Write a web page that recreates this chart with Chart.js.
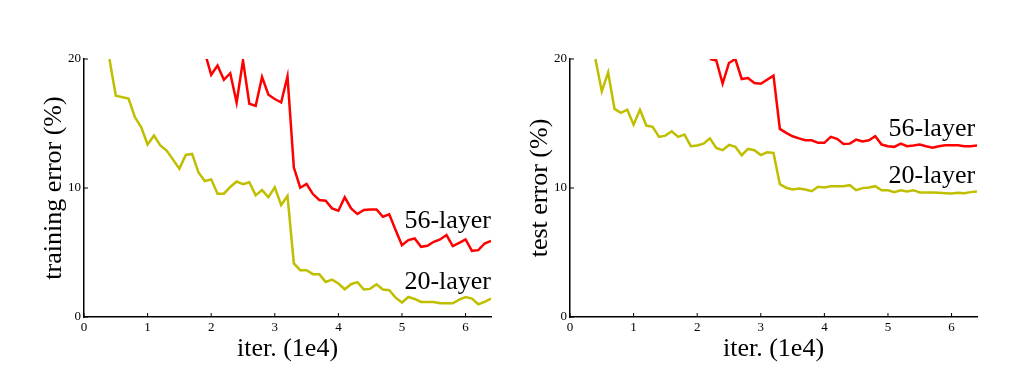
<!DOCTYPE html>
<html>
<head>
<meta charset="utf-8">
<script src="https://cdn.jsdelivr.net/npm/chart.js@4/dist/chart.umd.min.js"></script>
<style>
  body { margin: 0; background: #fff; }
  .panel { position: absolute; top: 0; width: 510px; height: 368px; }
</style>
</head>
<body>
<div class="panel" style="left:0"><canvas id="train" width="510" height="368"></canvas></div>
<div class="panel" style="left:510px"><canvas id="test" width="510" height="368"></canvas></div>
<script>
// x values are iterations in units of 1e4
const xTicks = [0, 1, 2, 3, 4, 5, 6];
const yTicks = [0, 10, 20];

// training error, 20-layer
const train20Iter = [0.4, 0.5, 0.7, 0.8, 0.9, 1.0, 1.1, 1.2, 1.3, 1.4, 1.5, 1.6, 1.7, 1.8, 1.9, 2.0, 2.1, 2.2, 2.3, 2.4, 2.5, 2.6, 2.7, 2.8, 2.9, 3.0, 3.1, 3.2, 3.3, 3.4, 3.5, 3.6, 3.7, 3.8, 3.9, 4.0, 4.1, 4.2, 4.3, 4.4, 4.5, 4.6, 4.7, 4.8, 4.9, 5.0, 5.1, 5.2, 5.3, 5.5, 5.6, 5.8, 5.9, 6.0, 6.1, 6.2, 6.3, 6.4];
const train20Err = [20, 17.15, 16.94, 15.5, 14.7, 13.37, 14.07, 13.3, 12.9, 12.2, 11.5, 12.56, 12.64, 11.2, 10.54, 10.67, 9.56, 9.56, 10.08, 10.5, 10.29, 10.44, 9.43, 9.84, 9.28, 10.05, 8.68, 9.38, 4.15, 3.63, 3.63, 3.32, 3.32, 2.72, 2.9, 2.6, 2.15, 2.54, 2.7, 2.13, 2.18, 2.54, 2.13, 2.07, 1.5, 1.12, 1.55, 1.4, 1.17, 1.17, 1.06, 1.06, 1.35, 1.55, 1.43, 0.99, 1.17, 1.43];

// training error, 56-layer
const train56Iter = [1.9, 2.0, 2.1, 2.2, 2.3, 2.4, 2.5, 2.6, 2.7, 2.8, 2.9, 3.0, 3.1, 3.2, 3.3, 3.4, 3.5, 3.6, 3.7, 3.8, 3.9, 4.0, 4.1, 4.2, 4.3, 4.4, 4.5, 4.6, 4.7, 4.8, 4.9, 5.0, 5.1, 5.2, 5.3, 5.4, 5.5, 5.6, 5.7, 5.8, 5.9, 6.0, 6.1, 6.2, 6.3, 6.4];
const train56Err = [20.5, 18.78, 19.5, 18.39, 18.9, 16.63, 19.89, 16.53, 16.37, 18.6, 17.23, 16.9, 16.63, 18.65, 11.58, 10.02, 10.31, 9.53, 9.07, 9.01, 8.42, 8.24, 9.28, 8.42, 7.98, 8.29, 8.34, 8.34, 7.77, 7.96, 6.74, 5.57, 5.96, 6.09, 5.44, 5.52, 5.83, 6.01, 6.35, 5.49, 5.75, 6.01, 5.13, 5.18, 5.7, 5.9];

// test error, 20-layer
const test20Iter = [0.4, 0.5, 0.6, 0.7, 0.8, 0.9, 1.0, 1.1, 1.2, 1.3, 1.4, 1.5, 1.6, 1.7, 1.8, 1.9, 2.0, 2.1, 2.2, 2.3, 2.4, 2.5, 2.6, 2.7, 2.8, 2.9, 3.0, 3.1, 3.2, 3.3, 3.4, 3.5, 3.6, 3.7, 3.8, 3.9, 4.0, 4.1, 4.2, 4.3, 4.4, 4.5, 4.6, 4.7, 4.8, 4.9, 5.0, 5.1, 5.2, 5.3, 5.4, 5.5, 5.6, 5.7, 5.8, 5.9, 6.0, 6.1, 6.2, 6.3, 6.4];
const test20Err = [20, 17.49, 18.96, 16.13, 15.82, 16.07, 14.91, 16.07, 14.84, 14.74, 13.96, 14.06, 14.4, 13.96, 14.14, 13.24, 13.29, 13.44, 13.85, 13.11, 12.93, 13.34, 13.19, 12.54, 13.03, 12.93, 12.55, 12.77, 12.72, 10.3, 10.02, 9.88, 9.96, 9.88, 9.75, 10.09, 10.04, 10.14, 10.14, 10.14, 10.22, 9.83, 9.99, 10.04, 10.14, 9.83, 9.83, 9.68, 9.83, 9.73, 9.83, 9.66, 9.66, 9.66, 9.64, 9.6, 9.57, 9.64, 9.6, 9.68, 9.72];

// test error, 56-layer
const test56Iter = [2.2, 2.3, 2.4, 2.5, 2.6, 2.7, 2.8, 2.9, 3.0, 3.2, 3.3, 3.4, 3.5, 3.6, 3.7, 3.8, 3.9, 4.0, 4.1, 4.2, 4.3, 4.4, 4.5, 4.6, 4.7, 4.8, 4.9, 5.0, 5.1, 5.2, 5.3, 5.4, 5.5, 5.6, 5.7, 5.8, 5.9, 6.0, 6.1, 6.2, 6.3, 6.4];
const test56Err = [20, 19.89, 18.09, 19.69, 20, 18.45, 18.53, 18.14, 18.08, 18.71, 14.58, 14.27, 14.01, 13.85, 13.7, 13.7, 13.5, 13.5, 13.96, 13.81, 13.42, 13.44, 13.75, 13.6, 13.7, 14.01, 13.37, 13.24, 13.19, 13.44, 13.24, 13.29, 13.37, 13.24, 13.13, 13.24, 13.31, 13.31, 13.31, 13.24, 13.24, 13.29];

// curve labels: [text, x at right end, y at baseline]
const trainLabels = [['56-layer', 6.4, 6.87], ['20-layer', 6.4, 2.2]];
const testLabels = [['56-layer', 6.37, 14.0], ['20-layer', 6.37, 10.4]];

const SERIF = "'Liberation Serif', 'Times New Roman', serif";
const RED = '#ff0000';
const YELLOW = '#bfbf00';

const toPoints = (xs, ys) => xs.map((x, i) => ({ x: x, y: ys[i] }));

// small inward tick marks + curve labels
const extrasPlugin = {
  id: 'extras',
  afterDraw(chart) {
    const ctx = chart.ctx;
    const xs = chart.scales.x;
    const ys = chart.scales.y;
    const area = chart.chartArea;
    ctx.save();
    ctx.strokeStyle = '#000';
    ctx.lineWidth = 1;
    xs.ticks.forEach(t => {
      const px = xs.getPixelForValue(t.value);
      ctx.beginPath();
      ctx.moveTo(px, area.bottom);
      ctx.lineTo(px, area.bottom - 4);
      ctx.stroke();
    });
    ys.ticks.forEach(t => {
      const py = ys.getPixelForValue(t.value);
      ctx.beginPath();
      ctx.moveTo(area.left, py);
      ctx.lineTo(area.left + 4, py);
      ctx.stroke();
    });
    ctx.fillStyle = '#000';
    ctx.font = '26px ' + SERIF;
    ctx.textAlign = 'right';
    ctx.textBaseline = 'alphabetic';
    chart.options.plugins.extras.labels.forEach(l => {
      ctx.fillText(l[0], xs.getPixelForValue(l[1]), ys.getPixelForValue(l[2]));
    });
    ctx.restore();
  }
};

function makeChart(id, title, p20, p56, labels, yWidth, titlePad, rightPad) {
  return new Chart(document.getElementById(id), {
    type: 'line',
    data: {
      datasets: [
        { data: p56, borderColor: RED, borderWidth: 2.5, pointRadius: 0, tension: 0 },
        { data: p20, borderColor: YELLOW, borderWidth: 2.5, pointRadius: 0, tension: 0 }
      ]
    },
    options: {
      responsive: false,
      animation: false,
      devicePixelRatio: 1,
      layout: { padding: { top: 59, right: rightPad, left: 0, bottom: 0 } },
      plugins: {
        legend: { display: false },
        tooltip: { enabled: false },
        extras: { labels: labels }
      },
      scales: {
        x: {
          type: 'linear',
          min: 0,
          max: 6.4,
          afterBuildTicks: s => { s.ticks = xTicks.map(v => ({ value: v })); },
          afterFit: s => { s.height = 51; },
          grid: { display: false, drawTicks: false },
          border: { display: true, color: '#000', width: 1.5 },
          ticks: { color: '#000', font: { family: SERIF, size: 13 }, padding: 3, maxRotation: 0 },
          title: { display: true, text: 'iter. (1e4)', color: '#000', font: { family: SERIF, size: 26, lineHeight: 1 }, padding: { top: 0, bottom: 6 } }
        },
        y: {
          min: 0,
          max: 20,
          afterBuildTicks: s => { s.ticks = yTicks.map(v => ({ value: v })); },
          afterFit: s => { s.width = yWidth; },
          grid: { display: false, drawTicks: false },
          border: { display: true, color: '#000', width: 1.5 },
          ticks: { color: '#000', font: { family: SERIF, size: 13 }, padding: 3 },
          title: { display: true, text: title, color: '#000', font: { family: SERIF, size: 26, lineHeight: 1 }, padding: { top: titlePad, bottom: 0 } }
        }
      }
    },
    plugins: [extrasPlugin]
  });
}

makeChart('train', 'training error (%)', toPoints(train20Iter, train20Err), toPoints(train56Iter, train56Err), trainLabels, 84, 41, 19);
makeChart('test', 'test error (%)', toPoints(test20Iter, test20Err), toPoints(test56Iter, test56Err), testLabels, 60, 17, 43);
</script>
</body>
</html>
